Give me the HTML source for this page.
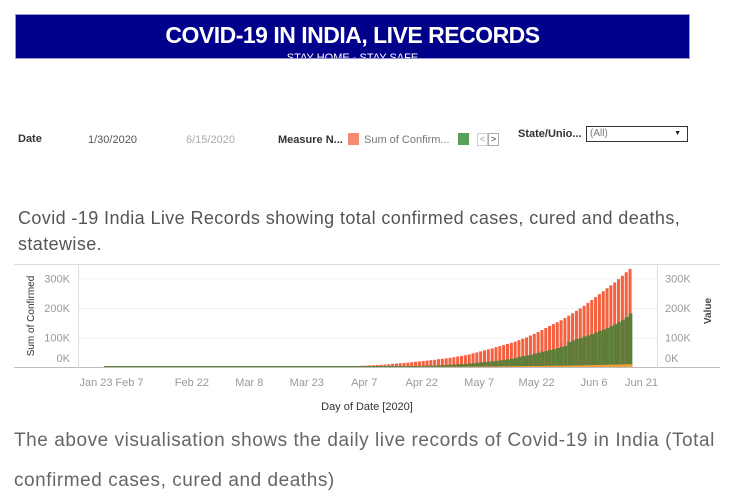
<!DOCTYPE html>
<html><head><meta charset="utf-8">
<style>
body{margin:0;width:736px;height:454px;overflow:hidden;background:#fff;font-family:"Liberation Sans",sans-serif;position:relative}
.abs{position:absolute;white-space:nowrap}
</style></head><body>
<div class="abs" style="left:15px;top:14px;width:675px;height:45px;background:#00008b;overflow:hidden;border:1px solid #9a9ad0;box-sizing:border-box">
 <div style="text-align:center;color:#fff;font-weight:bold;font-size:23px;margin-top:7px;letter-spacing:-0.5px">COVID-19 IN INDIA, LIVE RECORDS</div>
 <div style="text-align:center;color:#fff;font-size:11px;margin-top:3px">STAY HOME - STAY SAFE</div>
</div>
<div class="abs" style="left:18px;top:133px;font-size:11px;font-weight:bold;color:#333">Date</div>
<div class="abs" style="left:88px;top:134px;font-size:11px;color:#555">1/30/2020</div>
<div class="abs" style="left:186px;top:134px;font-size:11px;color:#aaa">6/15/2020</div>
<div class="abs" style="left:278px;top:134px;font-size:11px;font-weight:bold;color:#333">Measure N...</div>
<div class="abs" style="left:348px;top:133px;width:11px;height:12px;background:#f58b72"></div>
<div class="abs" style="left:364px;top:134px;font-size:11px;color:#777">Sum of Confirm...</div>
<div class="abs" style="left:458px;top:133px;width:11px;height:12px;background:#5aa05a"></div>
<div class="abs" style="left:477px;top:133px;width:9px;height:11px;border:1px solid #ccc;font-size:9px;color:#999;line-height:11px;text-align:center">&lt;</div>
<div class="abs" style="left:488px;top:133px;width:9px;height:11px;border:1px solid #aaa;font-size:9px;color:#333;line-height:11px;text-align:center">&gt;</div>
<div class="abs" style="left:518px;top:128px;font-size:11px;font-weight:bold;color:#333">State/Unio...</div>
<div class="abs" style="left:586px;top:126px;width:102px;height:16px;border:1px solid #333;box-sizing:border-box;font-size:10px;color:#777;padding-left:3px;line-height:14px">(All)<span style="position:absolute;right:6px;top:0;color:#222;font-size:7px">▼</span></div>
<div class="abs" style="left:18px;top:205px;font-size:18px;color:#555;line-height:26px;white-space:normal;width:700px;letter-spacing:0.4px">Covid -19 India Live Records showing total confirmed cases, cured and deaths, statewise.</div>
<svg class="abs" style="left:0;top:0" width="736" height="454">
 <g id="grid"></g><g id="bars"></g><g id="axes"></g>
</svg>
<div class="abs" style="left:14px;top:421px;font-size:19px;color:#666;line-height:40px;white-space:normal;width:722px;letter-spacing:0.55px">The above visualisation shows the daily live records of Covid-19 in India (Total confirmed cases, cured and deaths)</div>
<script>
const startDay = 7; // Jan 30 is day 7 after Jan 23
const confirmed = [1,1,1,2,3,3,3,3,3,3,3,3,3,3,3,3,3,3,3,3,3,3,3,3,3,3,3,3,3,3,3,
3,5,6,28,30,31,34,39,43,56,62,73,82,102,113,119,142,156,194,244,330,396,499,536,657,727,887,987,1024,1251,1397,
1834,2069,2547,3072,3577,4281,4789,5274,5865,6761,7529,8447,9352,10815,11933,12759,13835,14792,16116,17656,18985,20471,21700,23077,24506,26496,27892,29435,31332,33050,
35365,37336,39980,42533,46433,49391,52952,56342,59662,62939,67152,70756,74281,78003,81970,85940,90927,95698,100328,106750,112359,118447,125101,131868,138845,145380,151767,158333,165799,173763,182143,
190535,198706,207615,216919,226770,236657,246628,256611,266598,276583,286579,297535,308993,320922,332424];
const cured = [0,0,0,0,0,0,0,0,0,0,0,0,0,0,0,0,0,0,0,0,0,0,3,3,3,3,3,3,3,3,3,
0,0,0,3,3,3,3,3,3,4,4,4,10,13,13,13,14,14,15,20,23,27,34,40,43,45,73,84,95,102,124,
144,156,169,191,229,229,326,353,411,473,565,764,969,1190,1344,1515,1767,2015,2302,2854,3252,3975,4258,5012,5210,5913,6185,7027,7797,8325,
9068,10007,10633,11707,12847,14183,15331,16776,17847,19358,20917,22549,24386,26235,27920,30153,34109,36824,39174,41406,45300,48534,51784,54441,57721,60491,64426,67692,71106,84370,89984,
94819,98527,103303,107107,111450,117073,122293,127095,132215,138670,145029,152195,160330,169379,181798];
const deaths = [0,0,0,0,0,0,0,0,0,0,0,0,0,0,0,0,0,0,0,0,0,0,0,0,0,0,0,0,0,0,0,
0,0,0,0,0,0,0,0,0,0,1,1,2,2,2,3,3,4,4,4,7,7,10,11,13,17,20,24,27,32,35,
41,53,62,75,86,111,124,149,169,206,242,273,308,324,353,377,420,452,488,519,559,603,652,686,722,780,825,886,937,1007,
1074,1152,1223,1323,1389,1568,1694,1783,1886,1981,2109,2206,2415,2549,2649,2752,2872,3029,3163,3303,3435,3583,3720,3867,4021,4167,4337,4531,4706,4971,5164,
5394,5598,5815,6075,6348,6642,6929,7135,7466,7745,8102,8498,8884,9195,9520];
const yTicks = [0,100000,200000,300000];
const yTickLabels = ["0K","100K","200K","300K"];
const xTickDays = [0,15,30,45,60,75,90,105,120,135,150];
const xTickLabels = ["Jan 23","Feb 7","Feb 22","Mar 8","Mar 23","Apr 7","Apr 22","May 7","May 22","Jun 6","Jun 21"];

const NS="http://www.w3.org/2000/svg";
const X0=77, PXD=3.83, BASE=367, PXV=98/332000;
const x = d => X0 + d*PXD;
const y = v => BASE - v*PXV;
function mk(tag, attrs, parent){const e=document.createElementNS(NS,tag);for(const k in attrs)e.setAttribute(k,attrs[k]);document.getElementById(parent).appendChild(e);return e;}
let e;
e=mk('line',{x1:14,x2:720,y1:264.5,y2:264.5,stroke:'#ddd'},'axes');


e=mk('line',{x1:14,x2:720,y1:BASE+0.5,y2:BASE+0.5,stroke:'#bbb'},'axes');


e=mk('line',{x1:78.5,x2:78.5,y1:264,y2:368,stroke:'#ddd'},'axes');


e=mk('line',{x1:657.5,x2:657.5,y1:264,y2:368,stroke:'#ddd'},'axes');


yTicks.forEach((v,i)=>{
  const g=mk('line',{x1:79,x2:657,y1:y(v)+0.5,y2:y(v)+0.5,stroke:'#f2f2f2'},'grid');
  
  
  const ly = i==0 ? y(v)-5 : y(v)+4;
  const t=mk('text',{x:70,y:ly,'text-anchor':'end','font-size':11,fill:'#999','font-family':'Liberation Sans, sans-serif'},'axes');
  t.textContent=yTickLabels[i];
  
  
  const t2=mk('text',{x:665,y:ly,'font-size':11,fill:'#999','font-family':'Liberation Sans, sans-serif'},'axes');
  t2.textContent=yTickLabels[i];
  
  
});
xTickDays.forEach((d,i)=>{
  let cx=x(d); if(i==0) cx+=19; if(i==1) cx-=5; if(i==10) cx-=10;
  const t=mk('text',{x:cx,y:386,'text-anchor':'middle','font-size':11,fill:'#999','font-family':'Liberation Sans, sans-serif'},'axes');
  t.textContent=xTickLabels[i];
  
  
});
e=mk('text',{x:367,y:410,'text-anchor':'middle','font-size':11,fill:'#333','font-family':'Liberation Sans, sans-serif'},'axes');
e.textContent='Day of Date [2020]';


e=mk('text',{x:0,y:0,'text-anchor':'middle','font-size':10,fill:'#333','font-family':'Liberation Sans, sans-serif',transform:'translate(34,316) rotate(-90)'},'axes');
e.textContent='Sum of Confirmed';


e=mk('text',{x:0,y:0,'text-anchor':'middle','font-size':10,'font-weight':'bold',fill:'#444','font-family':'Liberation Sans, sans-serif',transform:'translate(711,311) rotate(-90)'},'axes');
e.textContent='Value';


confirmed.forEach((v,i)=>{
  const d=startDay+i, bx=x(d);
  const h=Math.max(BASE-y(v),0);
  const r=mk('rect',{x:bx,y:BASE-h,width:PXD-0.8,height:h,fill:'#f5603f'},'bars');
  
  
  const hc=Math.max(BASE-y(cured[i]),1);
  const c=mk('rect',{x:bx,y:BASE-hc,width:PXD,height:hc,fill:'#5d7d38'},'bars');
  
  
  const hd=BASE-y(deaths[i]);
  if(hd>0){const dd=mk('rect',{x:bx,y:BASE-hd,width:PXD,height:hd,fill:'#f5a03c'},'bars');
  
  }
});
</script>
</body></html>
